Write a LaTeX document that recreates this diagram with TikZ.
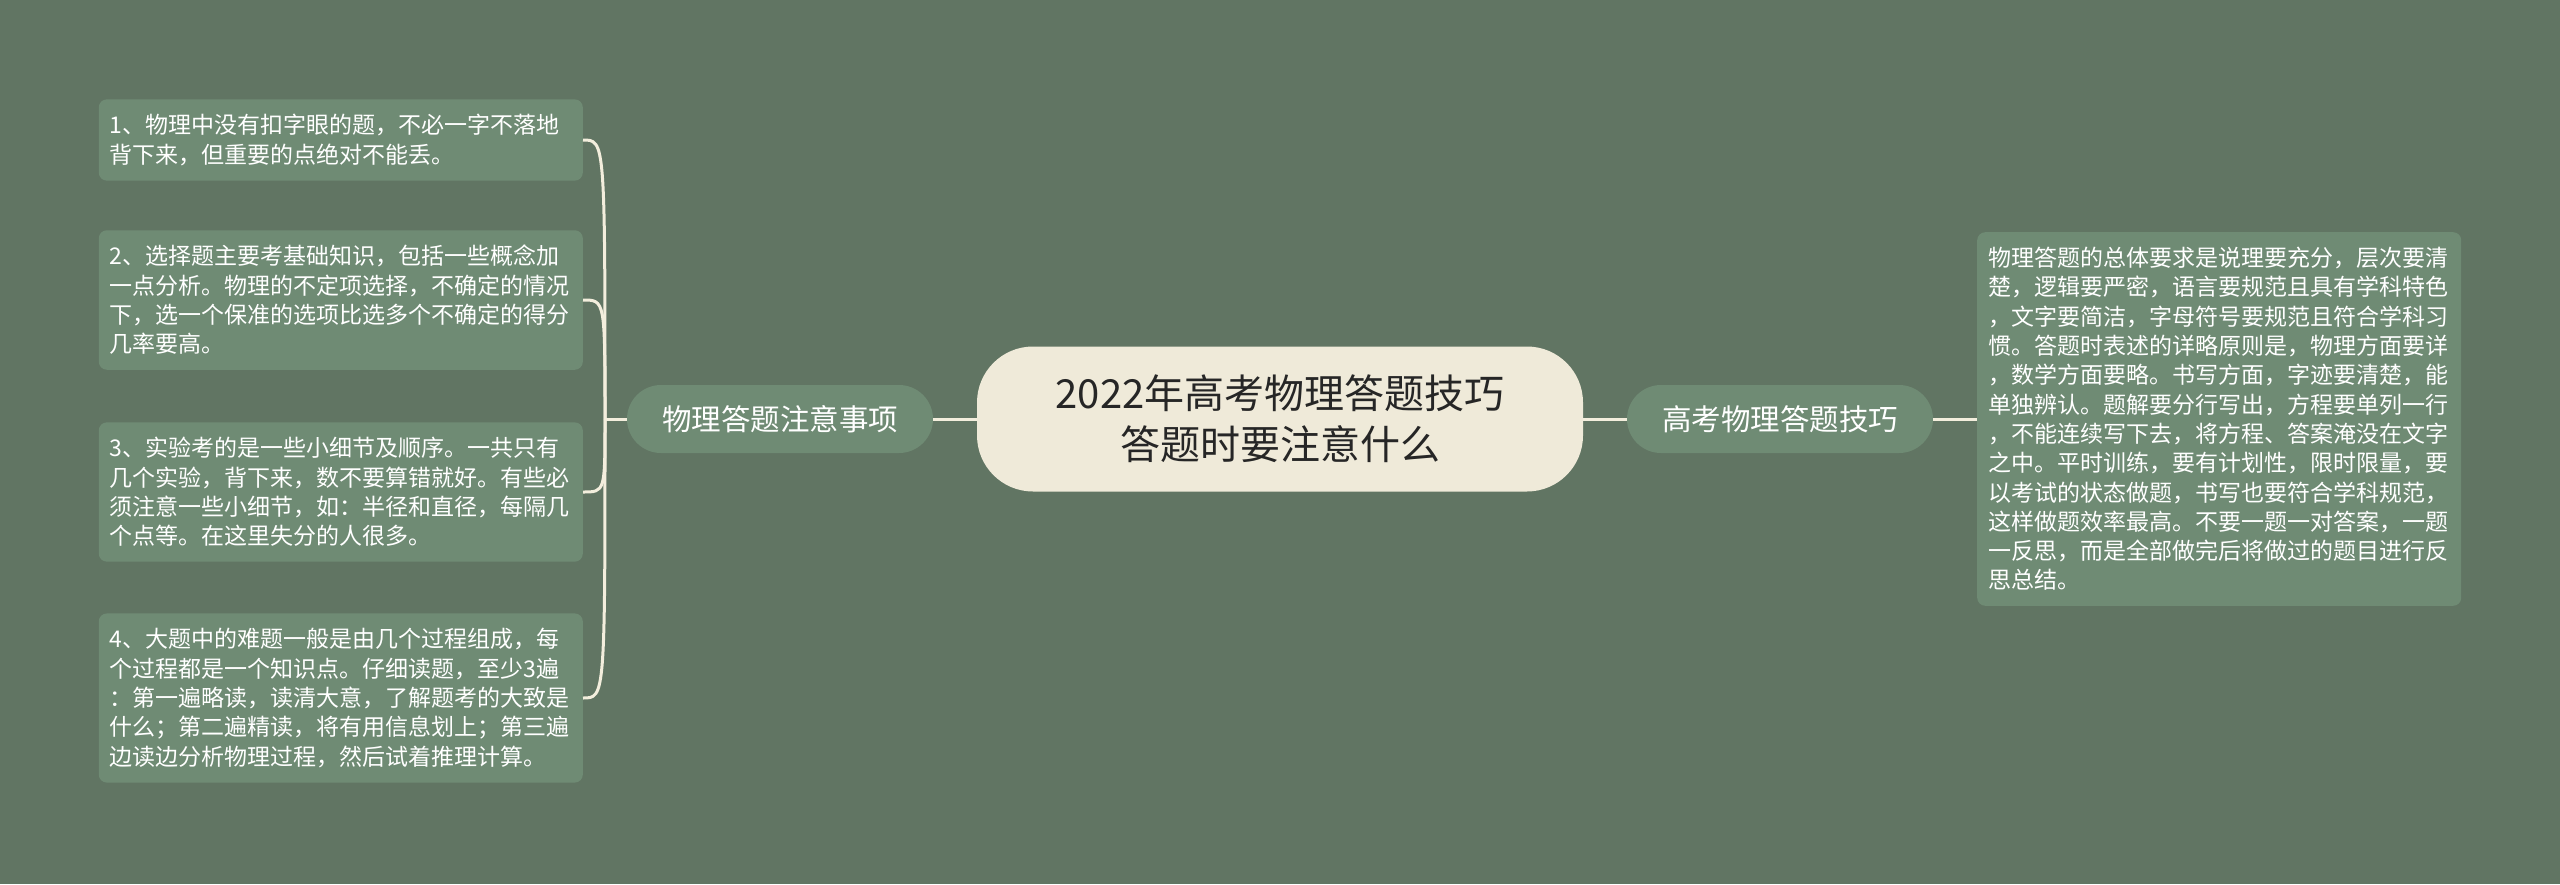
\documentclass[tikz,border=0pt]{standalone}
\usepackage{fontspec}
\setmainfont{Noto Sans CJK SC}
\definecolor{bgcol}{HTML}{617563}
\definecolor{boxcol}{HTML}{6F8B74}
\definecolor{topiccol}{HTML}{EFEAD9}
\definecolor{linecol}{HTML}{F3EEDD}
\definecolor{titlecol}{HTML}{262626}

\begin{document}
\begin{tikzpicture}[
    x=1pt, y=-1pt,
    topic/.style={rectangle, rounded corners=56pt, fill=topiccol, minimum width=606pt, minimum height=145pt, align=center, text=titlecol, font=\fontsize{40}{51}\selectfont},
    branch/.style={rectangle, rounded corners=34pt, fill=boxcol, minimum width=306pt, minimum height=68pt, text=white, font=\fontsize{29.5}{36}\selectfont},
    leaf/.style={rectangle, rounded corners=8pt, fill=boxcol, text width=462pt, inner xsep=11pt, inner ysep=15pt, align=left, text=white, font=\fontsize{23}{29.3}\selectfont},
    link/.style={draw=linecol, line width=3pt}
  ]
    \fill[bgcol] (0,0) rectangle (2560,884);

    \node[topic] (topic) at (1280, 419) {2022年高考物理答题技巧\\答题时要注意什么};
    \node[branch] (lb) at (780, 419) {物理答题注意事项};
    \node[branch] (rb) at (1780, 419) {高考物理答题技巧};
    \coordinate (lj) at (605, 419);

    \node[leaf, anchor=east] (l1) at (583, 140) {1、物理中没有扣字眼的题，不必一字不落地\\背下来，但重要的点绝对不能丢。};
    \node[leaf, anchor=east] (l2) at (583, 300) {2、选择题主要考基础知识，包括一些概念加\\一点分析。物理的不定项选择，不确定的情况\\下，选一个保准的选项比选多个不确定的得分\\几率要高。};
    \node[leaf, anchor=east] (l3) at (583, 492) {3、实验考的是一些小细节及顺序。一共只有\\几个实验，背下来，数不要算错就好。有些必\\须注意一些小细节，如：半径和直径，每隔几\\个点等。在这里失分的人很多。};
    \node[leaf, anchor=east] (l4) at (583, 698) {4、大题中的难题一般是由几个过程组成，每\\个过程都是一个知识点。仔细读题，至少3遍\\：第一遍略读，读清大意，了解题考的大致是\\什么；第二遍精读，将有用信息划上；第三遍\\边读边分析物理过程，然后试着推理计算。};
    \node[leaf, anchor=west] (r1) at (1977, 419) {物理答题的总体要求是说理要充分，层次要清\\楚，逻辑要严密，语言要规范且具有学科特色\\，文字要简洁，字母符号要规范且符合学科习\\惯。答题时表述的详略原则是，物理方面要详\\，数学方面要略。书写方面，字迹要清楚，能\\单独辨认。题解要分行写出，方程要单列一行\\，不能连续写下去，将方程、答案淹没在文字\\之中。平时训练，要有计划性，限时限量，要\\以考试的状态做题，书写也要符合学科规范，\\这样做题效率最高。不要一题一对答案，一题\\一反思，而是全部做完后将做过的题目进行反\\思总结。};

    \draw[link] (topic) -- (lb);
    \draw[link] (lb) -- (lj);
    \draw[link] (lj) .. controls (lj |- l1.east) .. (l1.east);
    \draw[link] (lj) .. controls (lj |- l2.east) .. (l2.east);
    \draw[link] (lj) .. controls (lj |- l3.east) .. (l3.east);
    \draw[link] (lj) .. controls (lj |- l4.east) .. (l4.east);

    \draw[link] (topic) -- (rb);
    \draw[link] (rb) -- (r1);

  \end{tikzpicture}
\end{document}
